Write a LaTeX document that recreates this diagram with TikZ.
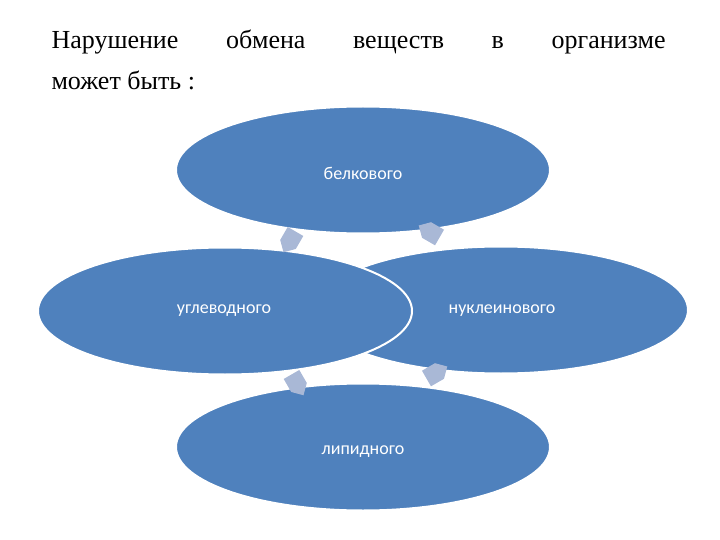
\documentclass[tikz,border=0pt]{standalone}
\usepackage{fontspec}
\setmainfont{Liberation Serif}
\newfontfamily\lblfont{Carlito}
\definecolor{ell}{HTML}{4F81BD}
\definecolor{arr}{HTML}{A9B8D6}
\begin{document}
\begin{tikzpicture}[x=1pt,y=-1pt,
  ov/.style={ellipse,fill=ell,draw=white,line width=2pt,minimum width=374pt,minimum height=127pt,text=white,font=\lblfont\fontsize{18}{20}\selectfont},
  cyc/.style={fill=arr}]
\usetikzlibrary{shapes.geometric}
\useasboundingbox (0,0) rectangle (720,540);
\node[anchor=west,font=\fontsize{26}{30}\selectfont] (t1) at (48,42) {\makebox[614pt][s]{Нарушение\hfill обмена\hfill веществ\hfill в\hfill организме}};
\node[anchor=west,font=\fontsize{26}{30}\selectfont] (t2) at (48,80) {может быть :};
\node[ov] (top) at (363,170) {};
\node[ov] (right) at (501,310) {};
\node[ov] (bot) at (363,447) {};
\node[ov] (left) at (225,311) {};
\node[text=white,font=\lblfont\fontsize{18}{20}\selectfont] (lt) at (363,173) {белкового};
\node[text=white,font=\lblfont\fontsize{18}{20}\selectfont] (lr) at (502,311) {нуклеинового};
\node[text=white,font=\lblfont\fontsize{18}{20}\selectfont] (lb) at (363,452) {липидного};
\node[text=white,font=\lblfont\fontsize{18}{20}\selectfont] (ll) at (224,311) {углеводного};
\foreach \x/\y/\r in {290/241/-120, 430/232/150, 297/384/-60, 436/373/30}{
  \fill[cyc,shift={(\x,\y)},rotate=\r] (-11,-9) -- (4,-9) -- (13,0) -- (4,9) -- (-11,9) -- cycle;
}
\end{tikzpicture}
\end{document}
